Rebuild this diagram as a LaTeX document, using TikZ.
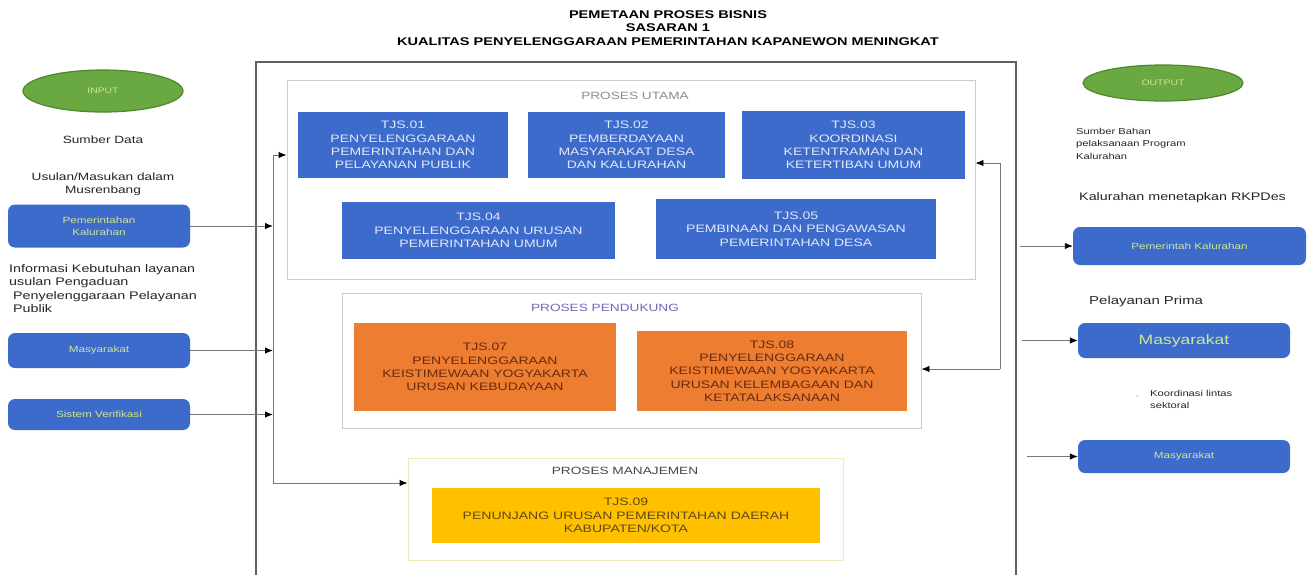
\documentclass[tikz,border=0pt]{standalone}
\usepackage{fontspec}
\setmainfont{Liberation Sans}[FakeStretch=1.3]
\usetikzlibrary{arrows.meta,shapes.geometric}
\definecolor{boxblue}{RGB}{61,107,204}
\definecolor{txtlight}{RGB}{226,232,246}
\definecolor{txtgreen}{RGB}{205,230,150}
\definecolor{txtyell}{RGB}{214,232,120}
\definecolor{ellgreen}{RGB}{106,168,66}
\definecolor{ellborder}{RGB}{78,136,46}
\definecolor{boxorange}{RGB}{237,125,49}
\definecolor{txtbrown}{RGB}{105,42,15}
\definecolor{boxyellow}{RGB}{255,192,0}
\definecolor{txtolive}{RGB}{95,72,20}
\definecolor{framegray}{RGB}{205,205,205}
\definecolor{frameyellow}{RGB}{242,234,185}
\definecolor{labgray}{RGB}{140,140,140}
\definecolor{labpurple}{RGB}{120,100,180}
\definecolor{labdark}{RGB}{70,70,70}
\definecolor{linegray}{RGB}{120,120,120}
\definecolor{outergray}{RGB}{95,95,95}
\begin{document}
\begin{tikzpicture}[x=1pt,y=-1pt,
  tjs/.style={fill=boxblue, text=txtlight, align=center, inner sep=0pt,
    font=\fontsize{10.8}{13.3}\selectfont},
  tjsorange/.style={fill=boxorange, text=txtbrown, align=center, inner sep=0pt,
    font=\fontsize{10.8}{13.3}\selectfont},
  tjsyellow/.style={fill=boxyellow, text=txtolive, align=center, inner sep=0pt,
    font=\fontsize{10.8}{13.3}\selectfont},
  sidebox/.style={fill=boxblue, rounded corners=7pt, text=txtgreen, align=center,
    inner sep=0pt, font=\fontsize{9}{12}\selectfont},
  oval/.style={ellipse, fill=ellgreen, draw=ellborder, line width=1.2pt, inner sep=0pt,
    text=txtgreen, font=\fontsize{8}{10}\selectfont},
  group/.style={draw=framegray, line width=0.9pt, inner sep=0pt},
  grouplabel/.style={font=\fontsize{10.5}{12}\selectfont, inner sep=0pt},
  note/.style={font=\fontsize{10.5}{13}\selectfont, text=black!85, inner sep=0pt},
  smallnote/.style={font=\fontsize{8.6}{12.5}\selectfont, text=black!85, inner sep=0pt},
  conn/.style={draw=linegray, line width=0.9pt},
  arr/.style={draw=linegray, line width=0.9pt, -{Latex[color=black,length=8pt,width=6.5pt]}},
  outerframe/.style={draw=outergray, line width=1.3pt, inner sep=0pt}
]
\useasboundingbox[fill=white] (0,0) rectangle (1308,574);

% title
\node[font=\bfseries\fontsize{11.2}{13.5}\selectfont, align=center, inner sep=0pt] (title) at (668,28)
  {PEMETAAN PROSES BISNIS\\SASARAN 1\\KUALITAS PENYELENGGARAAN PEMERINTAHAN KAPANEWON MENINGKAT};

% outer frame
\node[outerframe, minimum width=760, minimum height=530] (outer) at (636,327) {};

% INPUT side
\node[oval, minimum width=160, minimum height=42] (input) at (103,91) {INPUT};
\node[note, align=center] (sumberdata) at (103,140) {Sumber Data};
\node[note, align=center] (usulan) at (103,184) {Usulan/Masukan dalam\\Musrenbang};
\node[sidebox, minimum width=182, minimum height=43] (pk) at (99,226) {Pemerintahan\\Kalurahan};
\node[note, align=left, anchor=north west, font=\fontsize{11}{13.5}\selectfont] (info) at (9,264)
  {Informasi Kebutuhan layanan\\usulan Pengaduan\\\hspace*{4pt}Penyelenggaraan Pelayanan\\\hspace*{4pt}Publik};
\node[sidebox, minimum width=182, minimum height=35] (masyl) at (99,350.5) {Masyarakat};
\node[sidebox, minimum width=182, minimum height=31, text=txtyell] (sistem) at (99,414.5) {Sistem Verifikasi};

% PROSES UTAMA
\node[group, minimum width=688, minimum height=199] (utama) at (631,179.5) {};
\node[grouplabel, text=labgray] (utamalab) at (635,96) {PROSES UTAMA};
\node[tjs, minimum width=210, minimum height=66] (t1) at (403,145)
  {TJS.01\\PENYELENGGARAAN\\PEMERINTAHAN DAN\\PELAYANAN PUBLIK};
\node[tjs, minimum width=197, minimum height=66] (t2) at (626.5,145)
  {TJS.02\\PEMBERDAYAAN\\MASYARAKAT DESA\\DAN KALURAHAN};
\node[tjs, minimum width=223, minimum height=68] (t3) at (853.5,145)
  {TJS.03\\KOORDINASI\\KETENTRAMAN DAN\\KETERTIBAN UMUM};
\node[tjs, minimum width=273, minimum height=57] (t4) at (478.5,230.5)
  {TJS.04\\PENYELENGGARAAN URUSAN\\PEMERINTAHAN UMUM};
\node[tjs, minimum width=280, minimum height=60] (t5) at (796,229)
  {TJS.05\\PEMBINAAN DAN PENGAWASAN\\PEMERINTAHAN DESA};

% PROSES PENDUKUNG
\node[group, minimum width=579, minimum height=135] (pendukung) at (631.5,360.5) {};
\node[grouplabel, text=labpurple] (pendlab) at (605,308) {PROSES PENDUKUNG};
\node[tjsorange, minimum width=262, minimum height=88] (t7) at (485,367)
  {TJS.07\\PENYELENGGARAAN\\KEISTIMEWAAN YOGYAKARTA\\URUSAN KEBUDAYAAN};
\node[tjsorange, minimum width=270, minimum height=80] (t8) at (772,371)
  {TJS.08\\PENYELENGGARAAN\\KEISTIMEWAAN YOGYAKARTA\\URUSAN KELEMBAGAAN DAN\\KETATALAKSANAAN};

% PROSES MANAJEMEN
\node[group, draw=frameyellow, minimum width=435, minimum height=102] (manaj) at (625.5,509) {};
\node[grouplabel, text=labdark] (manajlab) at (625,471) {PROSES MANAJEMEN};
\node[tjsyellow, minimum width=388, minimum height=55] (t9) at (626,515.5)
  {TJS.09\\PENUNJANG URUSAN PEMERINTAHAN DAERAH\\KABUPATEN/KOTA};

% OUTPUT side
\node[oval, minimum width=160, minimum height=36] (output) at (1163,83) {OUTPUT};
\node[smallnote, align=left, anchor=north west] (sumberbahan) at (1076,128)
  {Sumber Bahan\\pelaksanaan Program\\Kalurahan};
\node[note, anchor=west, font=\fontsize{11}{13}\selectfont] (rkpdes) at (1079,198) {Kalurahan menetapkan RKPDes};
\node[sidebox, minimum width=233, minimum height=38] (pkr) at (1189.5,246) {Pemerintah Kalurahan};
\node[note, anchor=west, font=\fontsize{11.5}{13}\selectfont] (prima) at (1089,302) {Pelayanan Prima};
\node[sidebox, minimum width=212, minimum height=35, font=\fontsize{13.5}{15}\selectfont] (masyr1) at (1184,340.5) {Masyarakat};
\node[smallnote, align=left, anchor=north west] (koord) at (1150,390) {Koordinasi lintas\\sektoral};
\node[note, text=black!50, font=\fontsize{7}{8}\selectfont] (koorddash) at (1137,397) {-};
\node[sidebox, minimum width=212, minimum height=33] (masyr2) at (1184,456.5) {Masyarakat};

% left connectors
\coordinate (vtop) at (273,155);
\coordinate (vbot) at (273,483);
\draw[conn] (vtop) -- (vbot);
\draw[arr] (vtop) -- (utama.west |- vtop);
\draw[arr] (vbot) -- (manaj.west |- vbot);
\draw[arr] (pk.east) -- (pk.east -| vtop);
\draw[arr] (masyl.east) -- (masyl.east -| vtop);
\draw[arr] (sistem.east) -- (sistem.east -| vtop);

% right connectors
\coordinate (rtop) at (1000,163);
\coordinate (rbot) at (1000,369);
\draw[conn] (rtop) -- (rbot);
\draw[arr] (rtop) -- (utama.east |- rtop);
\draw[arr] (rbot) -- (pendukung.east |- rbot);

\coordinate (ra1) at (1020,246);
\coordinate (ra2) at (1022,340.5);
\coordinate (ra3) at (1027,456.5);
\draw[arr] (ra1) -- (pkr.west);
\draw[arr] (ra2) -- (masyr1.west);
\draw[arr] (ra3) -- (masyr2.west);
\end{tikzpicture}
\end{document}
